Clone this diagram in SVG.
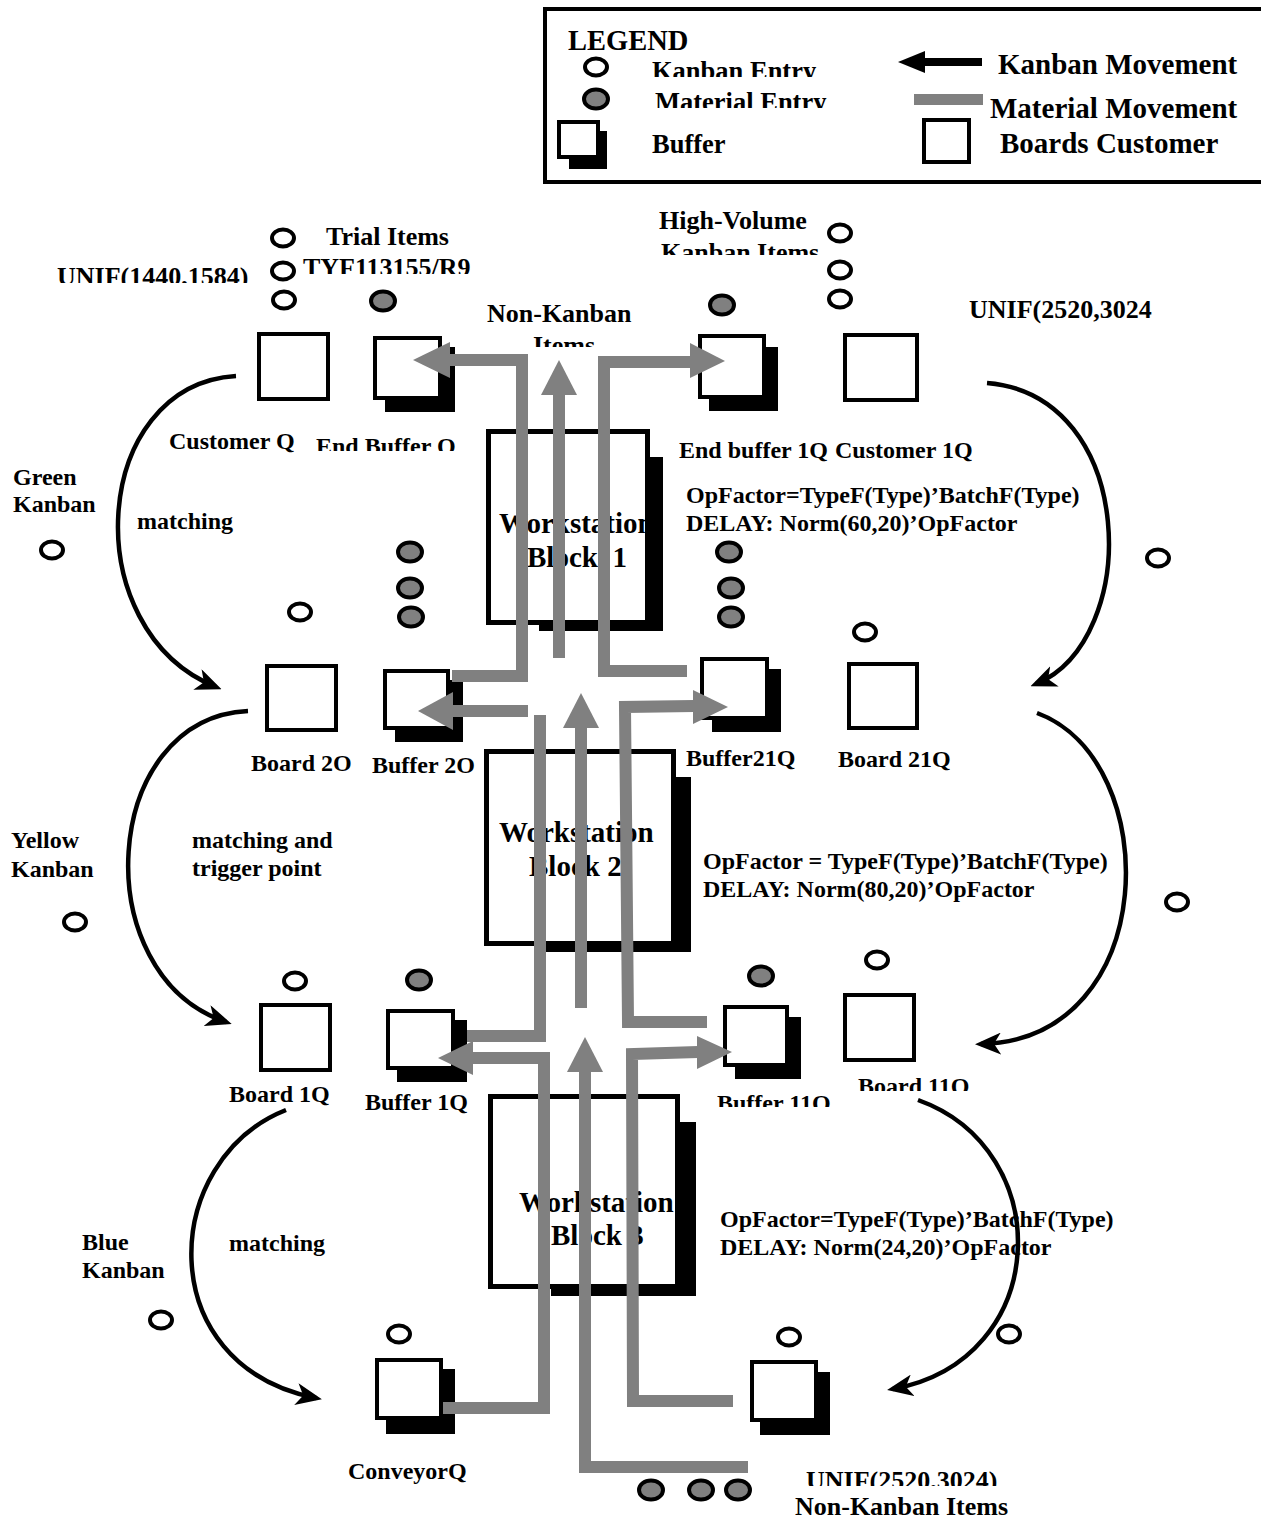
<svg xmlns="http://www.w3.org/2000/svg" width="1261" height="1519" viewBox="0 0 1261 1519">
<style>
.t{font-family:"Liberation Serif","Times New Roman",serif;font-weight:bold;fill:#000}
.s24{font-size:24px}.s26{font-size:26px}.s27{font-size:26.5px}.s29{font-size:29px}
.k{fill:#fff;stroke:#000;stroke-width:4}
.m{fill:#808080;stroke:#000;stroke-width:4}
.sq{fill:#fff;stroke:#000;stroke-width:4}
.sh{fill:#000}
.blk{fill:#fff;stroke:#000;stroke-width:5}
.mat{fill:none;stroke:#808080;stroke-width:12;stroke-linejoin:miter}
.ah{fill:#808080}
.kb{fill:none;stroke:#000;stroke-width:4.5;marker-end:url(#ka)}
</style>
<defs>
<marker id="ka" markerUnits="userSpaceOnUse" markerWidth="26" markerHeight="22" refX="20" refY="11" orient="auto" viewBox="0 0 26 22"><path d="M0,0 L26,11 L0,22 L7,11 z" fill="#000"/></marker>
<clipPath id="c1" clipPathUnits="userSpaceOnUse"><rect x="640" y="50" width="200" height="27"/></clipPath>
<clipPath id="c2" clipPathUnits="userSpaceOnUse"><rect x="640" y="82" width="200" height="26"/></clipPath>
<clipPath id="c3" clipPathUnits="userSpaceOnUse"><rect x="40" y="255" width="230" height="28"/></clipPath>
<clipPath id="c4" clipPathUnits="userSpaceOnUse"><rect x="295" y="250" width="190" height="24"/></clipPath>
<clipPath id="c5" clipPathUnits="userSpaceOnUse"><rect x="650" y="235" width="185" height="20"/></clipPath>
<clipPath id="c6" clipPathUnits="userSpaceOnUse"><rect x="520" y="328" width="90" height="19"/></clipPath>
<clipPath id="c7" clipPathUnits="userSpaceOnUse"><rect x="305" y="428" width="165" height="23"/></clipPath>
<clipPath id="c8" clipPathUnits="userSpaceOnUse"><rect x="705" y="1085" width="130" height="22"/></clipPath>
<clipPath id="c9" clipPathUnits="userSpaceOnUse"><rect x="845" y="1068" width="130" height="23"/></clipPath>
<clipPath id="c10" clipPathUnits="userSpaceOnUse"><rect x="795" y="1460" width="225" height="26"/></clipPath>
</defs>
<rect width="1261" height="1519" fill="#fff"/>

<g id="legend">
<rect x="545" y="9" width="720" height="173" fill="#fff" stroke="#000" stroke-width="4"/>
<text class="t" x="568" y="50" font-size="28.5">LEGEND</text>
<ellipse class="k" cx="596" cy="67" rx="11" ry="8.5"/>
<text class="t s27" x="652" y="80" clip-path="url(#c1)">Kanban Entry</text>
<ellipse class="m" cx="596" cy="99" rx="12" ry="9.5"/>
<text class="t s27" x="655" y="111" clip-path="url(#c2)">Material Entry</text>
<rect class="sh" x="569" y="131" width="38" height="38"/>
<rect class="sq" x="559" y="122" width="39" height="35"/>
<text class="t s27" x="652" y="153">Buffer</text>
<rect x="924" y="58" width="58" height="8" fill="#000"/>
<polygon points="925,51 898,62 925,73" fill="#000"/>
<text class="t s29" x="998" y="74">Kanban Movement</text>
<rect x="914" y="94" width="69" height="11" fill="#808080"/>
<text class="t s29" x="990" y="118">Material Movement</text>
<rect class="sq" x="924" y="120" width="45" height="42"/>
<text class="t s29" x="1000" y="153">Boards Customer</text>
</g>

<g id="top-labels">
<ellipse class="k" cx="283" cy="238" rx="11" ry="8.5"/>
<ellipse class="k" cx="283" cy="271" rx="11" ry="8.5"/>
<ellipse class="k" cx="284" cy="300" rx="11" ry="8.5"/>
<text class="t s26" x="326" y="245">Trial Items</text>
<text class="t s26" x="303" y="276" clip-path="url(#c4)">TYF113155/R9</text>
<text class="t s26" x="57" y="285" clip-path="url(#c3)">UNIF(1440,1584)</text>
<ellipse class="m" cx="383" cy="301" rx="12" ry="9.5"/>
<text class="t s26" x="659" y="229">High-Volume</text>
<text class="t s26" x="661" y="261" clip-path="url(#c5)">Kanban Items</text>
<ellipse class="k" cx="840" cy="233" rx="11" ry="8.5"/>
<ellipse class="k" cx="840" cy="270" rx="11" ry="8.5"/>
<ellipse class="k" cx="840" cy="299" rx="11" ry="8.5"/>
<text class="t s26" x="487" y="322">Non-Kanban</text>
<text class="t s26" x="533" y="354" clip-path="url(#c6)">Items</text>
<ellipse class="m" cx="722" cy="305" rx="12" ry="9.5"/>
<text class="t s26" x="969" y="318">UNIF(2520,3024</text>
</g>

<g id="customer-q">
<rect class="sq" x="259" y="334" width="69" height="65"/>
<text class="t s24" x="169" y="449">Customer Q</text>
</g>
<g id="end-buffer-q">
<rect class="sh" x="385" y="347" width="70" height="65"/>
<rect class="sq" x="375" y="338" width="65" height="60"/>
<text class="t s24" x="316" y="454" clip-path="url(#c7)">End Buffer Q</text>
</g>
<g id="end-buffer-1q">
<rect class="sh" x="709" y="347" width="69" height="64"/>
<rect class="sq" x="700" y="336" width="64" height="61"/>
<text class="t s24" x="679" y="458">End buffer 1Q</text>
</g>
<g id="customer-1q">
<rect class="sq" x="845" y="335" width="72" height="65"/>
<text class="t s24" x="835" y="458">Customer 1Q</text>
</g>

<g id="workstation-1">
<rect class="blk" x="488.5" y="431.5" width="159" height="191"/>
<text class="t s29" x="499" y="533">Workstation</text>
<text class="t s29" x="527" y="567" xml:space="preserve">Block  1</text>
<polygon class="sh" points="650,457 663,457 663,631 539,631 539,625 650,625"/>
<text class="t s24" x="686" y="503">OpFactor=TypeF(Type)’BatchF(Type)</text>
<text class="t s24" x="686" y="531">DELAY: Norm(60,20)’OpFactor</text>
</g>

<g id="green-kanban">
<text class="t s24" x="13" y="485">Green</text>
<text class="t s24" x="13" y="512">Kanban</text>
<ellipse class="k" cx="52" cy="550" rx="11" ry="8.5"/>
<text class="t s24" x="137" y="529">matching</text>
</g>
<g id="right-kanban-1"><ellipse class="k" cx="1158" cy="558" rx="11" ry="8.5"/></g>

<g id="board-2o">
<ellipse class="k" cx="300" cy="612" rx="11" ry="8.5"/>
<rect class="sq" x="267" y="666" width="69" height="64"/>
<text class="t s24" x="251" y="771">Board 2O</text>
</g>
<g id="buffer-2o">
<ellipse class="m" cx="410" cy="552" rx="12" ry="9.5"/>
<ellipse class="m" cx="410" cy="588" rx="12" ry="9.5"/>
<ellipse class="m" cx="411" cy="617" rx="12" ry="9.5"/>
<rect class="sh" x="395" y="680" width="68" height="62"/>
<rect class="sq" x="385" y="671" width="63" height="57"/>
<text class="t s24" x="372" y="773">Buffer 2O</text>
</g>
<g id="buffer-21q">
<ellipse class="m" cx="729" cy="552" rx="12" ry="9.5"/>
<ellipse class="m" cx="731" cy="588" rx="12" ry="9.5"/>
<ellipse class="m" cx="731" cy="617" rx="12" ry="9.5"/>
<rect class="sh" x="712" y="669" width="69" height="63"/>
<rect class="sq" x="702" y="659" width="65" height="59"/>
<text class="t s24" x="686" y="766">Buffer21Q</text>
</g>
<g id="board-21q">
<ellipse class="k" cx="865" cy="632" rx="11" ry="8.5"/>
<rect class="sq" x="849" y="664" width="68" height="64"/>
<text class="t s24" x="838" y="767">Board 21Q</text>
</g>

<g id="workstation-2">
<rect class="blk" x="486.5" y="751.5" width="187" height="192"/>
<text class="t s29" x="499" y="842">Workstation</text>
<text class="t s29" x="529" y="876">Block 2</text>
<polygon class="sh" points="676,777 691,777 691,952 545,952 545,946 676,946"/>
<text class="t s24" x="703" y="869">OpFactor = TypeF(Type)’BatchF(Type)</text>
<text class="t s24" x="703" y="897">DELAY: Norm(80,20)’OpFactor</text>
</g>

<g id="yellow-kanban">
<text class="t s24" x="11" y="848">Yellow</text>
<text class="t s24" x="11" y="877">Kanban</text>
<ellipse class="k" cx="75" cy="922" rx="11" ry="8.5"/>
<text class="t s24" x="192" y="848">matching and</text>
<text class="t s24" x="192" y="876">trigger point</text>
</g>
<g id="right-kanban-2"><ellipse class="k" cx="1177" cy="902" rx="11" ry="8.5"/></g>

<g id="board-1q">
<ellipse class="k" cx="295" cy="981" rx="11" ry="8.5"/>
<rect class="sq" x="261" y="1005" width="69" height="65"/>
<text class="t s24" x="229" y="1102">Board 1Q</text>
</g>
<g id="buffer-1q">
<ellipse class="m" cx="419" cy="980" rx="12" ry="9.5"/>
<rect class="sh" x="397" y="1020" width="70" height="62"/>
<rect class="sq" x="388" y="1011" width="65" height="57"/>
<text class="t s24" x="365" y="1110">Buffer 1Q</text>
</g>
<g id="buffer-11q">
<ellipse class="m" cx="761" cy="976" rx="12" ry="9.5"/>
<rect class="sh" x="735" y="1017" width="66" height="62"/>
<rect class="sq" x="725" y="1007" width="62" height="58"/>
<text class="t s24" x="717" y="1111" clip-path="url(#c8)">Buffer 11Q</text>
</g>
<g id="board-11q">
<ellipse class="k" cx="877" cy="960" rx="11" ry="8.5"/>
<rect class="sq" x="845" y="995" width="69" height="65"/>
<text class="t s24" x="858" y="1094" clip-path="url(#c9)">Board 11Q</text>
</g>

<g id="workstation-3">
<rect class="blk" x="490.5" y="1096.5" width="187" height="190"/>
<text class="t s29" x="519" y="1212">Workstation</text>
<text class="t s29" x="551" y="1245">Block 3</text>
<polygon class="sh" points="680,1122 696,1122 696,1296 551,1296 551,1289 680,1289"/>
<text class="t s24" x="720" y="1227">OpFactor=TypeF(Type)’BatchF(Type)</text>
<text class="t s24" x="720" y="1255">DELAY: Norm(24,20)’OpFactor</text>
</g>

<g id="blue-kanban">
<text class="t s24" x="82" y="1250">Blue</text>
<text class="t s24" x="82" y="1278">Kanban</text>
<ellipse class="k" cx="161" cy="1320" rx="11" ry="8.5"/>
<text class="t s24" x="229" y="1251">matching</text>
</g>
<g id="right-kanban-3"><ellipse class="k" cx="1009" cy="1334" rx="11" ry="8.5"/></g>

<g id="conveyor-q">
<ellipse class="k" cx="399" cy="1334" rx="11" ry="8.5"/>
<rect class="sh" x="386" y="1369" width="69" height="65"/>
<rect class="sq" x="377" y="1360" width="64" height="58"/>
<text class="t s24" x="348" y="1479">ConveyorQ</text>
</g>
<g id="start-buffer">
<ellipse class="k" cx="789" cy="1337" rx="11" ry="8.5"/>
<rect class="sh" x="760" y="1372" width="70" height="63"/>
<rect class="sq" x="752" y="1362" width="64" height="58"/>
</g>
<g id="non-kanban-source">
<ellipse class="m" cx="651" cy="1490" rx="12" ry="9.5"/>
<ellipse class="m" cx="701" cy="1490" rx="12" ry="9.5"/>
<ellipse class="m" cx="738" cy="1490" rx="12" ry="9.5"/>
<text class="t s26" x="806" y="1489" clip-path="url(#c10)">UNIF(2520,3024)</text>
<text class="t s26" x="795" y="1515">Non-Kanban Items</text>
</g>

<g id="connectors">
<path class="kb" d="M236,376 C90,385 75,630 216,687"/>
<path class="kb" d="M248,711 C100,718 85,975 226,1022"/>
<path class="kb" d="M286,1110 C160,1160 150,1365 316,1398"/>
<path class="kb" d="M987,383 C1138,395 1142,640 1036,684"/>
<path class="kb" d="M1037,713 C1165,760 1162,1040 981,1044"/>
<path class="kb" d="M918,1100 C1058,1150 1052,1360 893,1389"/>

<polyline class="mat" points="452,676 522,676 522,360 450,360"/>
<polygon class="ah" points="450,342 413,360 450,378"/>
<line class="mat" x1="559" y1="658" x2="559" y2="394"/>
<polygon class="ah" points="541,395 559,360 577,395"/>
<polyline class="mat" points="687,671 604,671 604,362 691,362"/>
<polygon class="ah" points="690,343 725,361 690,378"/>

<line class="mat" x1="528" y1="711" x2="452" y2="711"/>
<polygon class="ah" points="453,692 418,711 453,730"/>
<polyline class="mat" points="467,1036 540,1036 540,715"/>
<line class="mat" x1="581" y1="1008" x2="581" y2="727"/>
<polygon class="ah" points="563,728 581,693 599,728"/>
<polyline class="mat" points="707,1022 628,1022 625,707 694,706"/>
<polygon class="ah" points="693,690 728,707 693,724"/>

<polyline class="mat" points="443,1408 544,1408 544,1058 472,1058"/>
<polygon class="ah" points="473,1041 438,1058 473,1075"/>
<polyline class="mat" points="748,1467 585,1467 585,1071"/>
<polygon class="ah" points="567,1072 585,1037 603,1072"/>
<polyline class="mat" points="733,1401 633,1401 632,1054 698,1052"/>
<polygon class="ah" points="697,1036 732,1052 697,1069"/>
</g>
</svg>
